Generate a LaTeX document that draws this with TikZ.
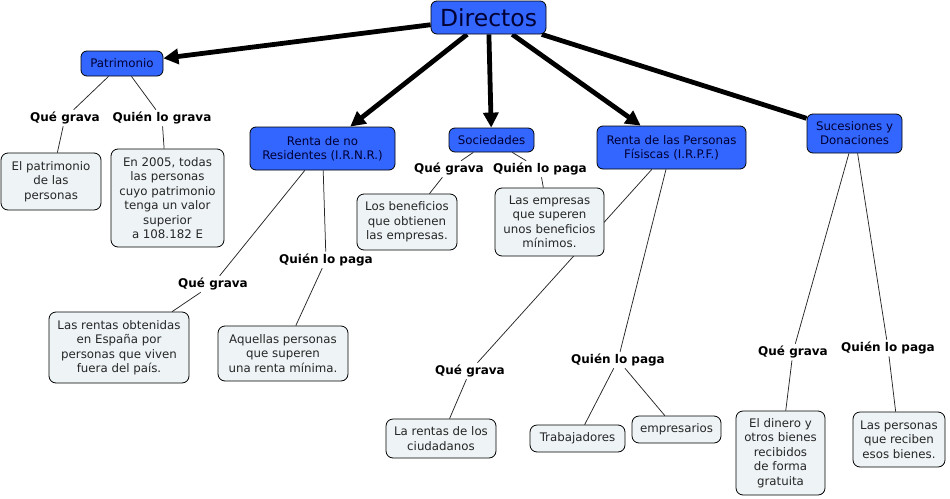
\documentclass[tikz,border=0pt]{standalone}
\usepackage{fontspec}
\setmainfont{DejaVu Sans}
\usetikzlibrary{arrows.meta,backgrounds}
\definecolor{conceptblue}{RGB}{51,102,255}
\definecolor{leaffill}{RGB}{238,243,245}
\definecolor{navytext}{RGB}{0,0,51}
\begin{document}
\begin{tikzpicture}[x=1pt,y=-1pt,
  >={Triangle[length=15pt,width=15pt]},
  concept/.style={draw=black,line width=0.8pt,fill=conceptblue,rounded corners=6pt,text=navytext,align=center,inner sep=0pt,font=\fontsize{11.8}{14}\selectfont},
  leaf/.style={draw=black,line width=0.8pt,fill=leaffill,rounded corners=7pt,text=black!85,align=center,inner sep=0pt,font=\fontsize{11.8}{14.5}\selectfont},
  linkword/.style={inner sep=2pt,font=\bfseries\fontsize{12}{14}\selectfont},
  mainarrow/.style={line width=4.8pt},
  thinline/.style={line width=0.75pt,black!85}]
\useasboundingbox (0,0) rectangle (950,498);
% conceptos
\node[concept,minimum width=115,minimum height=33,font=\fontsize{23.5}{27}\selectfont] (directos) at (488.5,17.5) {Directos};
\node[concept,minimum width=82,minimum height=25] (patrimonio) at (122,63.5) {Patrimonio};
\node[concept,minimum width=145,minimum height=43] (rnr) at (322.5,148.5) {Renta de no\\Residentes (I.R.N.R.)};
\node[concept,minimum width=85,minimum height=24] (soc) at (491.5,140) {Sociedades};
\node[concept,minimum width=149,minimum height=43] (irpf) at (671.5,147.5) {Renta de las Personas\\Físiscas (I.R.P.F.)};
\node[concept,minimum width=95,minimum height=39] (suc) at (854.5,133.5) {Sucesiones y\\Donaciones};
% palabras de enlace
\node[linkword] (patq) at (65,118) {Qué grava};
\node[linkword] (patw) at (162,118) {Quién lo grava};
\node[linkword] (rnrq) at (213,284) {Qué grava};
\node[linkword] (rnrw) at (326,260) {Quién lo paga};
\node[linkword] (socq) at (449,169) {Qué grava};
\node[linkword] (socw) at (540,169) {Quién lo paga};
\node[linkword] (irpfq) at (470,371) {Qué grava};
\node[linkword] (irpfw) at (618,360) {Quién lo paga};
\node[linkword] (sucq) at (793,352) {Qué grava};
\node[linkword] (sucw) at (888,348) {Quién lo paga};
% hojas
\node[leaf,minimum width=100,minimum height=57] (patqb) at (51,181.5) {El patrimonio\\de las\\personas};
\node[leaf,minimum width=113,minimum height=98] (patwb) at (167.5,198) {En 2005, todas\\las personas\\cuyo patrimonio\\tenga un valor\\superior\\a 108.182 E};
\node[leaf,minimum width=140,minimum height=71] (rnrqb) at (119,347.5) {Las rentas obtenidas\\en España por\\personas  que viven\\fuera del país.};
\node[leaf,minimum width=130,minimum height=55] (rnrwb) at (283,353.5) {Aquellas personas\\que superen\\una renta mínima.};
\node[leaf,minimum width=100,minimum height=56] (socqb) at (407,222) {Los beneficios\\que obtienen\\las empresas.};
\node[leaf,minimum width=109,minimum height=68] (socwb) at (549.5,222) {Las empresas\\que superen\\unos beneficios\\mínimos.};
\node[leaf,minimum width=110,minimum height=39] (irpfqb) at (441,438.5) {La rentas de los\\ciudadanos};
\node[leaf,minimum width=95,minimum height=27] (trab) at (577.5,438.5) {Trabajadores};
\node[leaf,minimum width=89,minimum height=27] (emp) at (676.5,429.5) {empresarios};
\node[leaf,minimum width=89,minimum height=84] (sucqb) at (780.5,453) {El dinero y\\otros bienes\\recibidos\\de forma\\gratuita};
\node[leaf,minimum width=92,minimum height=55] (sucwb) at (899,439.5) {Las personas\\que reciben\\esos bienes.};
% conexiones
\begin{scope}[on background layer]
  \foreach \t in {patrimonio,rnr,soc,irpf}{\draw[mainarrow,->] (directos) -- (\t);}
  \draw[mainarrow] (directos) -- (suc);
  \foreach \a/\b in {patrimonio/patq,patrimonio/patw,patq/patqb,patw/patwb,
      rnr/rnrq,rnr/rnrw,rnrq/rnrqb,rnrw/rnrwb,
      soc/socq,soc/socw,socq/socqb,socw/socwb,
      irpf/irpfq,irpf/irpfw,irpfq/irpfqb,irpfw/trab,irpfw/emp,
      suc/sucq,suc/sucw,sucq/sucqb,sucw/sucwb}{\draw[thinline] (\a) -- (\b);}
\end{scope}
\end{tikzpicture}
\end{document}
